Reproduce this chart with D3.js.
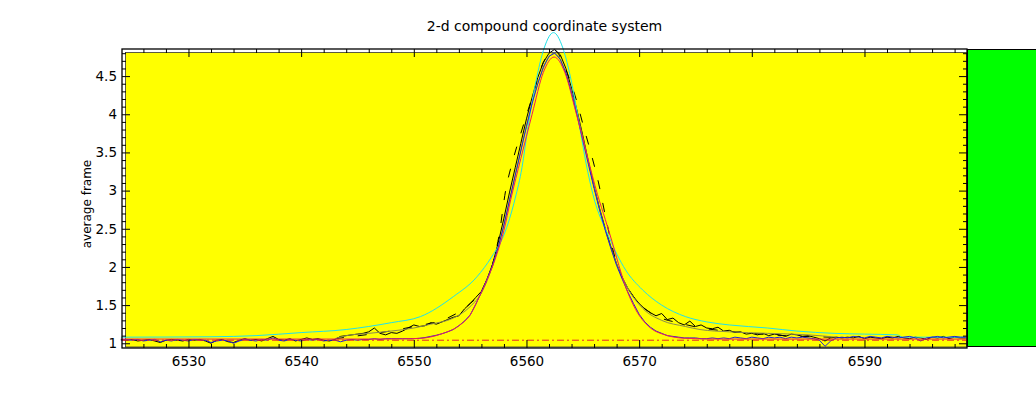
<!DOCTYPE html>
<html>
<head>
<meta charset="utf-8">
<script src="https://cdn.jsdelivr.net/npm/d3@7"></script>
<style>
  body { margin: 0; background: #fff; }
  svg { display: block; font-family: "DejaVu Sans", sans-serif; }
</style>
</head>
<body>
<svg id="chart" width="1036" height="396"></svg>
<script>
// spectra sampled every 0.5 from 6524
const waveStart = 6524;
const waveStep = 0.5;

const fluxBlack = [
  1.05, 1.04, 1.05, 1.03, 1.04, 1.05, 1.03, 1.01, 1.04, 1.05,
  1.04, 1.03, 1.05, 1.04, 1.05, 1.03, 1.00, 1.04, 1.05, 1.02,
  1.01, 1.04, 1.06, 1.04, 1.05, 1.03, 1.06, 1.09, 1.05, 1.04,
  1.06, 1.03, 1.05, 1.07, 1.05, 1.06, 1.04, 1.03, 1.05, 1.09,
  1.10, 1.11, 1.12, 1.13, 1.15, 1.20, 1.13, 1.11, 1.14, 1.13,
  1.16, 1.20, 1.24, 1.22, 1.23, 1.27, 1.25, 1.28, 1.31, 1.34,
  1.36, 1.45, 1.52, 1.60, 1.68, 1.84, 2.04, 2.32, 2.64, 2.98,
  3.30, 3.62, 3.94, 4.22, 4.48, 4.68, 4.80, 4.85, 4.78, 4.60,
  4.34, 4.04, 3.72, 3.38, 3.05, 2.76, 2.50, 2.26, 2.04, 1.86,
  1.72, 1.61, 1.52, 1.45, 1.40, 1.36, 1.39, 1.31, 1.33, 1.27,
  1.24, 1.29, 1.22, 1.24, 1.20, 1.19, 1.21, 1.16, 1.17, 1.14,
  1.15, 1.12, 1.13, 1.11, 1.13, 1.10, 1.12, 1.11, 1.09, 1.12,
  1.11, 1.09, 1.10, 1.08, 1.06, 1.03, 1.07, 1.08, 1.07, 1.08,
  1.07, 1.09, 1.06, 1.08, 1.07, 1.06, 1.08, 1.07, 1.09, 1.07,
  1.06, 1.08, 1.07, 1.05, 1.08, 1.07, 1.09, 1.06, 1.08, 1.07,
  1.07
];

const fluxBlue = [
  1.04, 1.05, 1.04, 1.05, 1.03, 1.04, 1.05, 1.02, 1.04, 1.03,
  1.05, 1.04, 1.03, 1.05, 1.04, 1.04, 1.01, 1.03, 1.04, 1.03,
  1.00, 1.03, 1.05, 1.04, 1.03, 1.05, 1.04, 1.07, 1.04, 1.03,
  1.05, 1.04, 1.03, 1.05, 1.04, 1.05, 1.03, 1.04, 1.04, 1.02,
  1.04, 1.05, 1.04, 1.05, 1.05, 1.06, 1.05, 1.06, 1.06, 1.06,
  1.06, 1.06, 1.06, 1.065, 1.075, 1.09, 1.105, 1.125, 1.15, 1.18,
  1.23, 1.29, 1.37, 1.51, 1.67, 1.84, 2.02, 2.26, 2.55, 2.88,
  3.20, 3.52, 3.84, 4.14, 4.40, 4.62, 4.76, 4.80, 4.72, 4.54,
  4.28, 3.98, 3.66, 3.34, 3.03, 2.74, 2.48, 2.24, 2.02, 1.84,
  1.67, 1.52, 1.38, 1.28, 1.21, 1.16, 1.13, 1.10, 1.09, 1.08,
  1.07, 1.07, 1.07, 1.06, 1.06, 1.07, 1.06, 1.07, 1.06, 1.08,
  1.07, 1.06, 1.08, 1.07, 1.06, 1.08, 1.07, 1.08, 1.06, 1.08,
  1.07, 1.08, 1.07, 1.06, 1.04, 0.96, 1.03, 1.07, 1.08, 1.07,
  1.09, 1.08, 1.07, 1.09, 1.08, 1.07, 1.09, 1.08, 1.07, 1.08,
  1.09, 1.07, 1.03, 1.07, 1.08, 1.09, 1.07, 1.08, 1.09, 1.08,
  1.08
];

// fitted profiles
const redWave = [6524, 6540, 6546, 6549, 6550.6, 6552.4, 6554.1, 6555, 6555.75, 6556.5, 6557.4, 6558, 6558.6,
  6559.5, 6560.5, 6561.5, 6562.45, 6563.4, 6564.4, 6565.4, 6566.3, 6567, 6567.6, 6568.2, 6568.8, 6569.7,
  6570.85, 6572.3, 6574.1, 6577, 6599];
const redFlux = [1.055, 1.055, 1.055, 1.058, 1.065, 1.12, 1.24, 1.37, 1.59, 1.83, 2.18, 2.48, 2.88,
  3.42, 4.0, 4.55, 4.75, 4.55, 4.02, 3.45, 2.95, 2.62, 2.33, 2.02, 1.74, 1.44,
  1.22, 1.11, 1.065, 1.055, 1.055];

const cyanWave = [6524, 6532, 6536, 6540, 6544, 6546, 6548, 6550.6, 6553.5, 6555.6, 6556.9, 6558, 6559,
  6559.6, 6560.1, 6560.8, 6561.6, 6562.4, 6563.2, 6564, 6564.7, 6565.3, 6565.9, 6567.3, 6568.8, 6570.3,
  6572, 6574.1, 6576, 6578, 6581.4, 6584, 6587.3, 6590, 6592.9, 6593.4, 6599];
const cyanFlux = [1.08, 1.085, 1.10, 1.14, 1.18, 1.22, 1.27, 1.35, 1.61, 1.87, 2.13, 2.42, 2.90,
  3.30, 3.80, 4.40, 4.88, 5.07, 4.88, 4.42, 3.85, 3.35, 2.95, 2.40, 1.96, 1.70,
  1.50, 1.35, 1.28, 1.24, 1.20, 1.16, 1.13, 1.12, 1.11, 1.08, 1.08];

const oliveWave = [6543, 6544, 6546, 6548, 6550, 6551.5, 6553.5, 6555, 6556, 6557, 6558, 6559, 6560, 6561,
  6562.45, 6564, 6565, 6566, 6567, 6568, 6569, 6570.3, 6572, 6574.1, 6575.4, 6578, 6581.4, 6585, 6587.5];
const oliveFlux = [1.06, 1.10, 1.13, 1.16, 1.20, 1.25, 1.33, 1.48, 1.66, 2.02, 2.55, 3.2, 3.85, 4.4,
  4.80, 4.3, 3.7, 3.05, 2.48, 2.04, 1.72, 1.46, 1.30, 1.22, 1.18, 1.15, 1.13, 1.11, 1.08];

const dashWave = [6543, 6550, 6553, 6555, 6556, 6557, 6557.55, 6558.15, 6558.8, 6559.5, 6560.5, 6561.5, 6562.45,
  6563.45, 6564.3, 6565.1, 6565.8, 6566.4, 6567.1, 6567.9, 6568.5, 6569.5, 6571, 6574, 6580, 6587];
const dashFlux = [1.06, 1.22, 1.33, 1.52, 1.68, 2.04, 2.4, 3.0, 3.4, 3.75, 4.22, 4.68, 4.84,
  4.6, 4.25, 3.82, 3.45, 3.1, 2.6, 2.1, 1.86, 1.61, 1.40, 1.25, 1.13, 1.08];

const baseLevel = 1.04;

const xTicks = [6530, 6540, 6550, 6560, 6570, 6580, 6590];
const yTicks = [1, 1.5, 2, 2.5, 3, 3.5, 4, 4.5];

const svg = d3.select("#chart");

let x = d3.scaleLinear().domain([6524.1, 6599.1]).range([122, 967]);
let y = d3.scaleLinear().domain([0.938, 4.855]).range([348, 49]);

let xMinor = d3.range(6526, 6599, 2).filter(v => !xTicks.includes(v));
let yMinor = d3.range(10, 49).map(v => v / 10).filter(v => !yTicks.includes(v));

// plot background
svg.append("rect")
  .attr("x", 125.5).attr("y", 52.5)
  .attr("width", 841).attr("height", 294.5)
  .attr("fill", "#ffff00")
  .attr("stroke", "#333").attr("stroke-width", 0.8);

function pairs(w, f) {
  return w.map((d, i) => [d, f[i]]);
}
function spectrum(f) {
  return f.map((d, i) => [waveStart + i * waveStep, d]);
}

let line = d3.line().x(d => x(d[0])).y(d => y(d[1]));
let smooth = d3.line().x(d => x(d[0])).y(d => y(d[1])).curve(d3.curveMonotoneX);

function drawPath(data, gen, color, dash) {
  let p = svg.append("path")
    .datum(data)
    .attr("d", gen)
    .attr("fill", "none")
    .attr("stroke", color)
    .attr("stroke-width", 1);
  if (dash) p.attr("stroke-dasharray", dash);
  return p;
}

drawPath(pairs(dashWave, dashFlux), smooth, "#000000", "9,14");
drawPath(spectrum(fluxBlack), line, "#000000");
drawPath(pairs(oliveWave, oliveFlux), smooth, "#8c8c50");
drawPath(pairs(cyanWave, cyanFlux), smooth, "#22e0e8");
drawPath(spectrum(fluxBlue), line, "#2222d8");
drawPath(pairs(redWave, redFlux), smooth, "#ee1f55");
drawPath([[6524.1, baseLevel], [6599.1, baseLevel]], line, "#e8262a", "7,3,2,3");

// axes with inward ticks
function styleAxis(g) {
  g.select(".domain").remove();
  g.attr("font-family", null).attr("font-size", null);
  g.selectAll("line").attr("stroke", "#000");
  g.selectAll("text").attr("fill", "#000").style("font-size", "13.5px");
}

svg.append("g").attr("transform", "translate(0,348)")
  .call(d3.axisBottom(x).tickValues(xTicks).tickSizeInner(-8).tickSizeOuter(0).tickPadding(8).tickFormat(d3.format("d")))
  .call(styleAxis);
svg.append("g").attr("transform", "translate(0,348)")
  .call(d3.axisBottom(x).tickValues(xMinor).tickSize(-4).tickFormat(""))
  .call(styleAxis);
svg.append("g").attr("transform", "translate(0,49)")
  .call(d3.axisTop(x).tickValues(xTicks).tickSize(-8).tickFormat(""))
  .call(styleAxis);
svg.append("g").attr("transform", "translate(0,49)")
  .call(d3.axisTop(x).tickValues(xMinor).tickSize(-4).tickFormat(""))
  .call(styleAxis);

svg.append("g").attr("transform", "translate(122,0)")
  .call(d3.axisLeft(y).tickValues(yTicks).tickSizeInner(-8).tickSizeOuter(0).tickPadding(5).tickFormat(d3.format("~g")))
  .call(styleAxis);
svg.append("g").attr("transform", "translate(122,0)")
  .call(d3.axisLeft(y).tickValues(yMinor).tickSize(-4).tickFormat(""))
  .call(styleAxis);
svg.append("g").attr("transform", "translate(967,0)")
  .call(d3.axisRight(y).tickValues(yTicks).tickSize(-8).tickFormat(""))
  .call(styleAxis);
svg.append("g").attr("transform", "translate(967,0)")
  .call(d3.axisRight(y).tickValues(yMinor).tickSize(-4).tickFormat(""))
  .call(styleAxis);

// frame
svg.append("rect")
  .attr("x", 122).attr("y", 49)
  .attr("width", 845).attr("height", 299)
  .attr("fill", "none")
  .attr("stroke", "#000").attr("stroke-width", 1.3);

// green side panel
svg.append("rect")
  .attr("x", 967.5).attr("y", 49.5)
  .attr("width", 80).attr("height", 297)
  .attr("fill", "#00ff00")
  .attr("stroke", "#000").attr("stroke-width", 1);

svg.append("text")
  .attr("x", 544.5).attr("y", 30.5)
  .attr("text-anchor", "middle")
  .style("font-size", "14px")
  .text("2-d compound coordinate system");

svg.append("text")
  .attr("transform", "translate(91,204) rotate(-90)")
  .attr("text-anchor", "middle")
  .style("font-size", "12px")
  .text("average frame");
</script>
</body>
</html>
